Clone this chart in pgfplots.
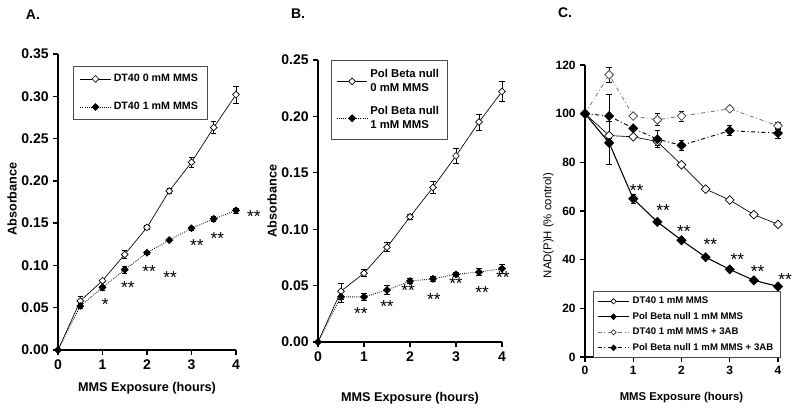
\documentclass[border=0pt]{standalone}
\usepackage{fontspec}
\setmainfont{Liberation Sans}
\usepackage{pgfplots}
\pgfplotsset{compat=1.18}

\pgfplotsset{
  panel/.style={
    scale only axis, clip=false,
    axis lines=left, axis line style={-, line width=1.2pt},
    tick align=outside, major tick length=3.5pt,
    tick style={black, line width=1pt},
    xmin=0, xmax=4, xtick={0,1,2,3,4},
    /pgf/number format/assume math mode=true,
    ticklabel style={font=\bfseries\fontsize{10.5}{12}\selectfont},
    legend cell align=left,
    error bars/error bar style={black, line width=0.5pt, solid},
    error bars/error mark options={rotate=90, mark size=2pt, line width=0.5pt, solid},
  },
  open/.style={black, line width=0.5pt, mark=square*, mark size=1.8pt,
    mark options={solid, rotate=45, fill=white, draw=black}},
  filled/.style={black, line width=0.6pt, densely dotted, mark=square*, mark size=1.8pt,
    mark options={solid, rotate=45, fill=black}},
  stars/.style={draw=none, mark=none, nodes near coords, point meta=explicit symbolic,
    nodes near coords style={anchor=center, yshift=-3pt, font=\fontsize{13}{13}\selectfont}},
}

\begin{document}
\begin{tikzpicture}
\path[use as bounding box] (0,0) rectangle (600pt,309.75pt);

\node[font=\bfseries\fontsize{10.5}{12}\selectfont] at (24.75pt,298.5pt) {A.};
\node[font=\bfseries\fontsize{10.5}{12}\selectfont] at (223.5pt,299.25pt) {B.};
\node[font=\bfseries\fontsize{10.5}{12}\selectfont] at (423.75pt,300pt) {C.};

% Panel A
\begin{axis}[panel, at={(43.5pt,47.25pt)}, anchor=south west,
  width=133.5pt, height=222pt,
  ymin=0, ymax=0.35, ytick={0,0.05,0.1,0.15,0.2,0.25,0.3,0.35},
  yticklabel style={/pgf/number format/.cd, fixed, fixed zerofill, precision=2},
  xlabel={MMS Exposure (hours)}, ylabel={Absorbance},
  xlabel style={at={(axis description cs:0.5,-0.128)}, anchor=center,
    font=\bfseries\fontsize{9.5}{11}\selectfont},
  ylabel style={at={(axis description cs:-0.258,0.51)}, anchor=center,
    font=\bfseries\fontsize{9.5}{11}\selectfont},
  legend style={at={(0.084,0.96)}, anchor=north west, draw=black!70, line width=0.5pt,
    font=\bfseries\fontsize{8}{9}\selectfont, row sep=10pt, inner xsep=5pt, inner ysep=4pt},
  legend image code/.code={\draw[mark repeat=2, mark phase=2, #1]
    plot coordinates {(0cm,0cm) (0.4cm,0cm) (0.8cm,0cm)};},
]
\addplot[open, error bars/.cd, y dir=both, y explicit] coordinates {
  (0,0) +- (0,0)
  (0.5,0.058) +- (0,0.006)
  (1,0.082) +- (0,0.002)
  (1.5,0.113) +- (0,0.005)
  (2,0.145) +- (0,0.002)
  (2.5,0.188) +- (0,0.003)
  (3,0.222) +- (0,0.006)
  (3.5,0.263) +- (0,0.007)
  (4,0.302) +- (0,0.010)
};
\addlegendentry{DT40 0 mM MMS}
\addplot[filled, error bars/.cd, y dir=both, y explicit] coordinates {
  (0,0) +- (0,0)
  (0.5,0.052) +- (0,0.003)
  (1,0.074) +- (0,0.003)
  (1.5,0.095) +- (0,0.004)
  (2,0.115) +- (0,0.002)
  (2.5,0.130) +- (0,0.002)
  (3,0.144) +- (0,0.002)
  (3.5,0.155) +- (0,0.003)
  (4,0.165) +- (0,0.003)
};
\addlegendentry{DT40 1 mM MMS}
\addplot[stars, forget plot] table[meta=s] {
x y s
1.06 0.059 *
1.57 0.079 **
2.05 0.097 **
2.52 0.090 **
3.12 0.128 **
3.58 0.136 **
4.40 0.163 **
};
\end{axis}

% Panel B
\begin{axis}[panel, at={(238.5pt,53.25pt)}, anchor=south west,
  width=138pt, height=211.5pt,
  ymin=0, ymax=0.25, ytick={0,0.05,0.1,0.15,0.2,0.25},
  yticklabel style={/pgf/number format/.cd, fixed, fixed zerofill, precision=2},
  xlabel={MMS Exposure (hours)}, ylabel={Absorbance},
  xlabel style={at={(axis description cs:0.5,-0.199)}, anchor=center,
    font=\bfseries\fontsize{9.5}{11}\selectfont},
  ylabel style={at={(axis description cs:-0.25,0.5)}, anchor=center,
    font=\bfseries\fontsize{9.5}{11}\selectfont},
  legend style={at={(0.07,1.0)}, anchor=north west, draw=black!70, line width=0.5pt,
    font=\bfseries\fontsize{8.5}{10}\selectfont, row sep=6pt, inner xsep=4pt, inner ysep=5pt,
    cells={align=left}},
  legend image code/.code={\draw[mark repeat=2, mark phase=2, #1]
    plot coordinates {(0cm,0cm) (0.4cm,0cm) (0.8cm,0cm)};},
]
\addplot[open, error bars/.cd, y dir=both, y explicit] coordinates {
  (0,0) +- (0,0)
  (0.5,0.045) +- (0,0.007)
  (1,0.061) +- (0,0.003)
  (1.5,0.084) +- (0,0.004)
  (2,0.111) +- (0,0.002)
  (2.5,0.137) +- (0,0.005)
  (3,0.165) +- (0,0.007)
  (3.5,0.195) +- (0,0.007)
  (4,0.222) +- (0,0.009)
};
\addlegendentry{Pol Beta null\\0 mM MMS}
\addplot[filled, error bars/.cd, y dir=both, y explicit] coordinates {
  (0,0) +- (0,0)
  (0.5,0.040) +- (0,0.005)
  (1,0.040) +- (0,0.003)
  (1.5,0.046) +- (0,0.004)
  (2,0.054) +- (0,0.002)
  (2.5,0.056) +- (0,0.002)
  (3,0.060) +- (0,0.002)
  (3.5,0.062) +- (0,0.003)
  (4,0.065) +- (0,0.004)
};
\addlegendentry{Pol Beta null\\1 mM MMS}
\addplot[stars, forget plot] table[meta=s] {
x y s
0.93 0.029 **
1.50 0.035 **
1.96 0.049 **
2.52 0.041 **
3.00 0.055 **
3.57 0.047 **
4.02 0.061 **
};
\end{axis}

% Panel C
\begin{axis}[panel, at={(438.75pt,42pt)}, anchor=south west,
  width=144.75pt, height=219pt,
  ymin=0, ymax=120, ytick={0,20,40,60,80,100,120},
  ticklabel style={font=\bfseries\fontsize{9}{10}\selectfont},
  xlabel={MMS Exposure (hours)}, ylabel={NAD(P)H (\% control)},
  xlabel style={at={(axis description cs:0.5,-0.14)}, anchor=center,
    font=\bfseries\fontsize{8.5}{10}\selectfont},
  ylabel style={at={(axis description cs:-0.19,0.45)}, anchor=center,
    font=\fontsize{8.5}{10}\selectfont},
  legend style={at={(0.04,0.225)}, anchor=north west, draw=black!70, line width=0.5pt,
    font=\bfseries\fontsize{7.2}{8}\selectfont, row sep=1pt, inner xsep=3pt, inner ysep=2pt},
  legend image code/.code={\draw[mark repeat=2, mark phase=2, #1, mark size=1.4pt]
    plot coordinates {(0cm,0cm) (0.42cm,0cm) (0.84cm,0cm)};},
]
\addplot[black, line width=0.5pt, mark=square*, mark size=2.3pt,
  mark options={solid, rotate=45, fill=white, draw=black},
  error bars/.cd, y dir=both, y explicit] coordinates {
  (0,100) +- (0,0)
  (0.5,91) +- (0,0)
  (1,90.5) +- (0,0)
  (1.5,88.5) +- (0,1.5)
  (2,79) +- (0,0)
  (2.5,69) +- (0,0)
  (3,64.5) +- (0,0)
  (3.5,58.5) +- (0,0)
  (4,54.5) +- (0,0)
};
\addlegendentry{DT40 1 mM MMS}
\addplot[black, line width=0.8pt, mark=square*, mark size=2.3pt,
  mark options={solid, rotate=45, fill=black},
  error bars/.cd, y dir=both, y explicit] coordinates {
  (0,100) +- (0,0)
  (0.5,88) +- (0,9)
  (1,65) +- (0,2)
  (1.5,55.5) +- (0,0)
  (2,48) +- (0,1)
  (2.5,41) +- (0,0)
  (3,36) +- (0,0)
  (3.5,31.5) +- (0,0)
  (4,29) +- (0,0)
};
\addlegendentry{Pol Beta null 1 mM MMS}
\addplot[black!55, line width=0.6pt, dash dot, mark=square*, mark size=2.3pt,
  mark options={solid, rotate=45, fill=white, draw=black!70},
  error bars/.cd, y dir=both, y explicit] coordinates {
  (0,100) +- (0,0)
  (0.5,116) +- (0,3)
  (1,99) +- (0,0)
  (1.5,97.5) +- (0,2.5)
  (2,99) +- (0,2)
  (3,102) +- (0,0)
  (4,95) +- (0,1.5)
};
\addlegendentry{DT40 1 mM MMS + 3AB}
\addplot[black, line width=0.7pt, dash dot, mark=square*, mark size=2.3pt,
  mark options={solid, rotate=45, fill=black},
  error bars/.cd, y dir=both, y explicit] coordinates {
  (0,100) +- (0,0)
  (0.5,99) +- (0,9)
  (1,94) +- (0,0)
  (1.5,89.5) +- (0,3.5)
  (2,87) +- (0,2)
  (3,93) +- (0,2)
  (4,92) +- (0,2)
};
\addlegendentry{Pol Beta null 1 mM MMS + 3AB}
\addplot[stars, forget plot] table[meta=s] {
x y s
1.07 70 **
1.62 61.7 **
2.05 53 **
2.60 48 **
3.16 41.6 **
3.58 36.6 **
4.15 33.3 **
};
\end{axis}
\end{tikzpicture}
\end{document}
